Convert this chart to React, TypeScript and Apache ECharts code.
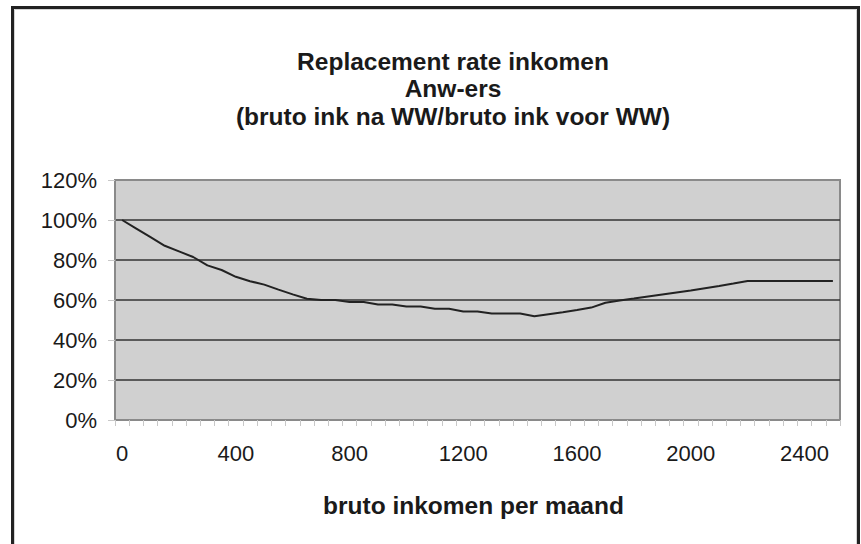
import React, { useEffect, useRef } from "react";
import * as echarts from "echarts";

const incomeCategories: string[] = [
  "0", "50", "100", "150", "200", "250", "300", "350", "400", "450",
  "500", "550", "600", "650", "700", "750", "800", "850", "900", "950",
  "1000", "1050", "1100", "1150", "1200", "1250", "1300", "1350", "1400", "1450",
  "1500", "1550", "1600", "1650", "1700", "1750", "1800", "1850", "1900", "1950",
  "2000", "2050", "2100", "2150", "2200", "2250", "2300", "2350", "2400", "2450",
  "2500",
];

const replacementRate: number[] = [
  100, 95.7, 91.4, 87.1, 84.3, 81.5, 77.3, 75, 71.6, 69.4,
  67.7, 65.2, 62.8, 60.6, 60, 60, 59, 59, 57.8, 57.8,
  56.8, 56.8, 55.6, 55.6, 54.3, 54.3, 53.2, 53.2, 53.2, 51.9,
  52.9, 53.9, 55, 56.2, 58.6, 59.7, 60.7, 61.8, 62.8, 63.8,
  64.8, 65.9, 67, 68.2, 69.5, 69.5, 69.5, 69.5, 69.5, 69.5,
  69.5,
];

const titleLines: string[] = [
  "Replacement rate inkomen",
  "Anw-ers",
  "(bruto ink na WW/bruto ink voor WW)",
];
const xAxisTitle = "bruto inkomen per maand";

const FONT = "'Liberation Sans', Arial, Helvetica, sans-serif";

export default function App() {
  const ref = useRef<HTMLDivElement>(null);
  useEffect(() => {
    if (!ref.current) return;
    const chart = echarts.init(ref.current, undefined, { renderer: "svg" });
    chart.setOption({
      animation: false,
      backgroundColor: "#ffffff",
      textStyle: { fontFamily: FONT },
      graphic: [
        {
          type: "rect",
          shape: { x: 12.5, y: 7.5, width: 846, height: 560 },
          style: { fill: "none", stroke: "#222", lineWidth: 3 },
          silent: true,
        },
        {
          type: "rect",
          shape: { x: 14.5, y: 9.5, width: 842, height: 560 },
          style: { fill: "none", stroke: "#d4d4d4", lineWidth: 1 },
          silent: true,
        },
        {
          type: "text",
          x: 453,
          y: 47.5,
          style: {
            text: titleLines.join("\n"),
            align: "center",
            verticalAlign: "top",
            fontSize: 24.5,
            fontWeight: "bold",
            fontFamily: FONT,
            lineHeight: 27.5,
            fill: "#1a1a1a",
          },
        },
      ],
      grid: {
        left: 115,
        right: 21,
        top: 180,
        bottom: 124,
        show: true,
        backgroundColor: "#d0d0d0",
        borderColor: "#8a8a8a",
        borderWidth: 2,
      },
      xAxis: {
        type: "category",
        data: incomeCategories,
        boundaryGap: true,
        name: xAxisTitle,
        nameLocation: "middle",
        nameGap: 73,
        nameTextStyle: {
          fontSize: 24.5,
          fontWeight: "bold",
          color: "#1a1a1a",
          fontFamily: FONT,
          padding: [0, 8, 0, 0],
        },
        axisLine: { show: true, lineStyle: { color: "#8a8a8a", width: 2 } },
        axisTick: {
          show: true,
          interval: 0,
          alignWithLabel: false,
          length: 6,
          lineStyle: { color: "#c8c8c8", width: 1 },
        },
        axisLabel: {
          interval: 7,
          margin: 22,
          fontSize: 22,
          color: "#1a1a1a",
          fontFamily: FONT,
        },
        splitLine: { show: false },
      },
      yAxis: {
        type: "value",
        min: 0,
        max: 120,
        interval: 20,
        axisLine: { show: true, lineStyle: { color: "#8a8a8a", width: 2 } },
        axisTick: {
          show: true,
          length: 7,
          lineStyle: { color: "#c8c8c8", width: 1 },
        },
        axisLabel: {
          formatter: "{value}%",
          margin: 18,
          fontSize: 22,
          color: "#1a1a1a",
          fontFamily: FONT,
        },
        splitLine: {
          show: true,
          lineStyle: {
            color: ["#8a8a8a", "#333333", "#333333", "#333333", "#333333", "#333333", "#8a8a8a"],
            width: 1.5,
          },
        },
      },
      series: [
        {
          type: "line",
          data: replacementRate,
          showSymbol: false,
          symbol: "none",
          lineStyle: { color: "#222222", width: 2 },
          z: 5,
        },
      ],
    });
    return () => chart.dispose();
  }, []);
  return (
    <div
      ref={ref}
      style={{ position: "fixed", left: 0, top: 0, width: 861, height: 544 }}
    />
  );
}
